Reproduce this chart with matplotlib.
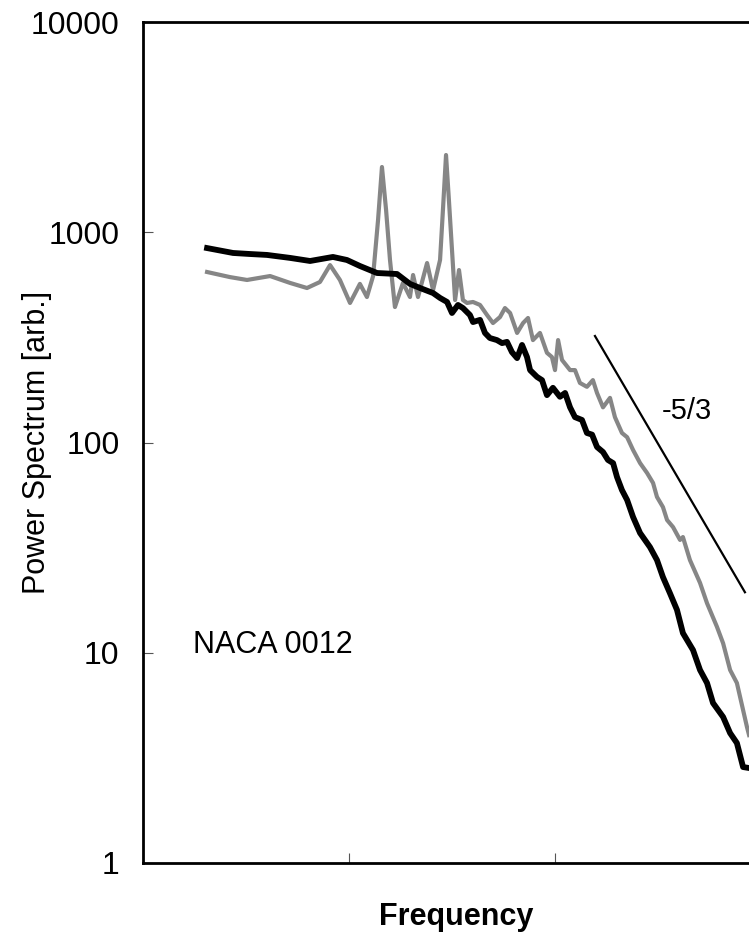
import numpy as np
import matplotlib
matplotlib.use("Agg")
import matplotlib.pyplot as plt
from matplotlib.ticker import FixedLocator, NullLocator, FixedFormatter

# black curve (frequency in arbitrary units, power in arb.)
freq_black = [0.311, 0.437, 0.519, 0.602, 0.714, 0.811, 0.922, 0.990, 1.053, 1.136,
              1.233, 1.296, 1.345, 1.408, 1.442, 1.476, 1.500, 1.529, 1.553, 1.587,
              1.602, 1.636, 1.660, 1.684, 1.718, 1.743, 1.767, 1.791, 1.816, 1.840,
              1.864, 1.879, 1.913, 1.937, 1.961, 1.990, 2.024, 2.049, 2.073, 2.097,
              2.131, 2.155, 2.180, 2.204, 2.233, 2.257, 2.282, 2.301, 2.325, 2.350,
              2.379, 2.413, 2.461, 2.495, 2.524, 2.558, 2.592, 2.621, 2.670, 2.704,
              2.738, 2.767, 2.816, 2.850, 2.883, 2.913, 2.942]
power_black = [841, 797, 788, 780, 755, 730, 763, 738, 691, 640,
               633, 568, 543, 514, 487, 466, 413, 451, 436, 404,
               374, 383, 332, 314, 307, 297, 301, 269, 252, 291,
               255, 221, 205, 198, 168, 182, 165, 172, 147, 132,
               128, 111, 109, 95.2, 90.1, 82.6, 79.8, 68.5, 59.4, 53.3,
               44.2, 37.1, 31.8, 27.6, 22.9, 19.2, 16.0, 12.4, 10.3, 8.28,
               7.18, 5.77, 4.95, 4.15, 3.72, 2.86, 2.83]

# gray curve
freq_gray = [0.311, 0.422, 0.505, 0.617, 0.714, 0.796, 0.859, 0.908, 0.956, 1.005,
             1.053, 1.087, 1.117, 1.141, 1.160, 1.180, 1.199, 1.223, 1.262, 1.296,
             1.311, 1.335, 1.379, 1.408, 1.442, 1.456, 1.471, 1.485, 1.500, 1.515,
             1.534, 1.553, 1.573, 1.602, 1.636, 1.670, 1.699, 1.733, 1.757, 1.782,
             1.816, 1.845, 1.869, 1.893, 1.927, 1.961, 1.985, 2.000, 2.015, 2.034,
             2.073, 2.097, 2.121, 2.155, 2.184, 2.204, 2.233, 2.267, 2.291, 2.325,
             2.350, 2.379, 2.413, 2.447, 2.476, 2.495, 2.524, 2.544, 2.573, 2.607,
             2.621, 2.655, 2.704, 2.738, 2.786, 2.816, 2.850, 2.883, 2.932, 2.942]
power_gray = [647, 612, 593, 619, 574, 543, 580, 698, 593, 461,
              568, 492, 619, 1143, 2043, 1276, 738, 441, 574, 492,
              626, 492, 714, 531, 738, 1276, 2330, 1423, 823, 476,
              661, 476, 461, 466, 451, 404, 370, 395, 436, 413,
              332, 370, 391, 307, 332, 267, 255, 221, 307, 247,
              221, 221, 192, 184, 198, 172, 147, 163, 132, 111,
              106, 92.1, 79.8, 71.6, 64.2, 55.1, 49.3, 42.8, 39.6, 34.4,
              35.5, 27.6, 21.5, 17.2, 13.3, 11.1, 8.28, 7.18, 4.43, 4.06]

# -5/3 reference slope
slope_freq = [2.194, 2.922]
slope_power = [321, 19.4]

yticks = [1, 10, 100, 1000, 10000]
ytick_labels = ["1", "10", "100", "1000", "10000"]
xticks = [1, 2]

plt.rcParams['font.family'] = ['Liberation Sans', 'DejaVu Sans']

fig = plt.figure(figsize=(7.49, 9.39), dpi=100)
ax = fig.add_axes([143/749, 76/939, 618/749, 841/939])

ax.plot(freq_gray, power_gray, color='#868686', lw=3.0, solid_joinstyle='round')
ax.plot(freq_black, power_black, color='black', lw=4.2, solid_joinstyle='round')
ax.plot(slope_freq, slope_power, color='black', lw=1.6)

ax.text(2.64, 141, "-5/3", fontsize=21, ha='center', va='center')
ax.text(0.243, 10.9, "NACA 0012", fontsize=22, ha='left', va='center')

ax.set_yscale('log')
ax.set_ylim(1, 10000)
ax.set_xlim(0, 3)
ax.yaxis.set_major_locator(FixedLocator(yticks))
ax.yaxis.set_major_formatter(FixedFormatter(ytick_labels))
ax.yaxis.set_minor_locator(NullLocator())
ax.set_xticks(xticks)
ax.set_xticklabels([])
ax.tick_params(axis='both', direction='in', length=7, width=0.8, color='#555555',
               labelsize=23, pad=17)

for s in ['left', 'bottom', 'top']:
    ax.spines[s].set_linewidth(2.0)
ax.spines['right'].set_visible(False)

fig.text(37/749, 1 - 442/939, "Power Spectrum [arb.]", fontsize=22,
         rotation=90, ha='center', va='center')
fig.text(456/749, 1 - 917/939, "Frequency", fontsize=22, fontweight='bold',
         ha='center', va='center')

fig.savefig("out.png", dpi=100)
